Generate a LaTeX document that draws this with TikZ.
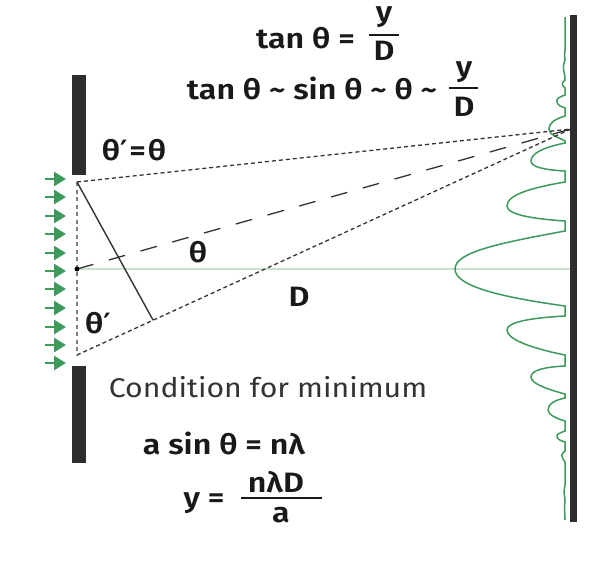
\documentclass[tikz,border=0pt]{standalone}
\usepackage{fontspec}
\setmainfont{Fira Sans SemiBold}[FakeStretch=1.15]
\newfontfamily\plainfont{Fira Sans}[FakeStretch=1.12]
\newfontfamily\primefont{DejaVu Sans Bold}
\usepackage{tikz}
\usetikzlibrary{arrows.meta}
\definecolor{slitgray}{HTML}{2E2E2E}
\definecolor{wavegreen}{HTML}{3D9A5B}
\definecolor{axisgreen}{HTML}{C8E2CC}
\newcommand{\prm}{{\primefont ′}}
\begin{document}
\begin{tikzpicture}
  [x=1pt,y=-1pt,
   bar/.style={fill=slitgray,draw=none},
   ray/.style={draw=black!80,line width=1.3pt},
   beam/.style={draw=wavegreen,line width=2.6pt,-{Triangle[length=12pt,width=14pt]}},
   lbl/.style={text=black!90,inner sep=0pt,font=\fontsize{28}{30}\selectfont},
   cond/.style={inner sep=0pt,text=black!80,font=\plainfont\fontsize{27}{30}\selectfont},
   fracbar/.style={draw=black!90,line width=2pt}]
  \useasboundingbox (0,0) rectangle (611,571);
  \fill[white] (0,0) rectangle (611,571);

  \fill[bar] (72,75) rectangle (86,175);
  \fill[bar] (72,366) rectangle (86,463);

  \coordinate (a) at (77,182);
  \coordinate (m) at (77,269);
  \coordinate (b) at (77,355);
  \coordinate (f) at (153,320);
  \coordinate (p) at (571,129);
  \coordinate (c) at (570,269);

  \draw[axisgreen,line width=1.8pt] (m) -- (c);
  \fill[bar] (570,15) rectangle (577,522);

  \draw[wavegreen,line width=1.5pt] (565,17) -- (565,50) -- (564.5,54) -- (565,60)
    .. controls (563,66) and (563,68) .. (564,72)
    .. controls (565,76) and (565,78) .. (565,80)
    .. controls (560,84) and (563,86) .. (565,88) -- (565,95)
    .. controls (559,97) and (556,99) .. (557,102)
    .. controls (558,106) and (562,107) .. (565,108) -- (565,116)
    .. controls (555,119) and (549,123) .. (549,129)
    .. controls (549,135) and (558,137) .. (565,141) -- (565,143)
    .. controls (545,147) and (531,153) .. (531,161)
    .. controls (531,167) and (545,170) .. (565,171) -- (565,182)
    .. controls (530,188) and (507,195) .. (507,206)
    .. controls (507,215) and (535,219) .. (565,221) -- (565,231)
    .. controls (500,243) and (455,252) .. (455,269)
    .. controls (455,286) and (500,297) .. (565,306) -- (565,316)
    .. controls (530,318) and (507,322) .. (507,330)
    .. controls (507,340) and (535,349) .. (565,355) -- (565,366)
    .. controls (545,367) and (531,370) .. (531,377)
    .. controls (531,384) and (550,390) .. (565,394) -- (565,398)
    .. controls (555,400) and (548,404) .. (548,410)
    .. controls (548,415) and (558,419) .. (565,421) -- (565,431)
    .. controls (560,433) and (556,434) .. (557,437)
    .. controls (558,440) and (562,441) .. (565,442) -- (565,451)
    .. controls (561,454) and (561,457) .. (563,459)
    .. controls (565,461) and (565,462) .. (565,463) -- (565,485)
    -- (564,492) -- (565,500) -- (564.5,508) -- (565,520);

  \draw[ray,dash pattern=on 4pt off 3pt] (a) -- (p);
  \draw[ray,dash pattern=on 17pt off 16pt] (m) -- (p);
  \draw[ray,dash pattern=on 4pt off 3pt] (b) -- (p);
  \draw[gray,line width=1.6pt,dash pattern=on 4pt off 3.5pt] (a) -- (b);
  \draw[ray,line width=1.4pt] (a) -- (f);
  \fill[black] (m) circle (2.5pt);

  \foreach \n/\y in {1/179,2/197,3/216,4/234,5/253,6/271,7/289,8/308,9/327,10/345,11/363}
  {
    \coordinate (s\n) at (45,\y);
    \coordinate (e\n) at (66,\y);
    \draw[beam] (s\n) -- (e\n);
  }

  \node[lbl] (t1) at (305.5,38) {tan θ =};
  \node[lbl] (y1) at (384,17) {y};
  \node[lbl] (d1) at (384,51) {D};
  \coordinate (u1) at (369,35);
  \coordinate (v1) at (399,35);
  \draw[fracbar] (u1) -- (v1);

  \node[lbl] (t2) at (312,88) {tan θ \textasciitilde\ sin θ \textasciitilde\ θ \textasciitilde};
  \node[lbl] (y2) at (464,72) {y};
  \node[lbl] (d2) at (464,107) {D};
  \coordinate (u2) at (449,88);
  \coordinate (v2) at (478,88);
  \draw[fracbar] (u2) -- (v2);

  \node[lbl] (eq) at (134,150) {θ\prm\kern2pt=\kern2ptθ};
  \node[lbl] (th) at (198,252) {θ};
  \node[lbl] (dd) at (299,297) {D};
  \node[lbl] (tp) at (98,323) {θ\prm};

  \node[cond] (co) at (268,387) {Condition for minimum};
  \node[lbl] (as) at (224,443) {a sin θ = nλ};
  \node[lbl] (ye) at (204,503) {y =};
  \node[lbl] (nl) at (276,482) {nλD};
  \node[lbl] (aa) at (281,515) {a};
  \coordinate (u3) at (241,498);
  \coordinate (v3) at (322,498);
  \draw[fracbar] (u3) -- (v3);
\end{tikzpicture}
\end{document}
